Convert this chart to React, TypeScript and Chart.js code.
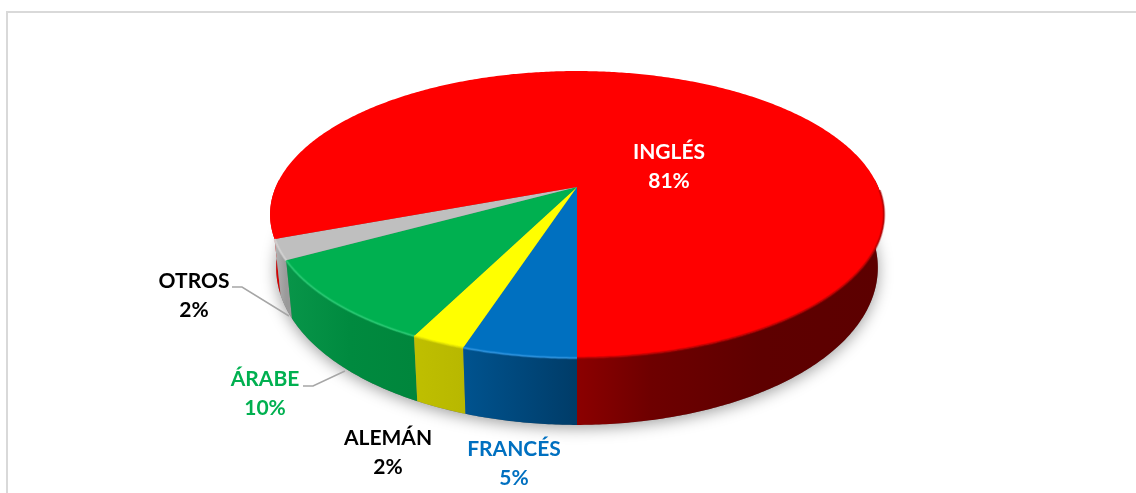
import React, { useEffect, useRef } from "react";
import { Chart, registerables } from "chart.js";

Chart.register(...registerables);

const categories = ["FRANCÉS", "ALEMÁN", "ÁRABE", "OTROS", "INGLÉS"];
const shares = [5, 2.4, 9.6, 2.3, 80.7];
const topColors = ["#0070C0", "#FFFF00", "#00B050", "#BFBFBF", "#FF0000"];
const labelColors = ["#0070C0", "#000000", "#00B050", "#000000", "#FFFFFF"];
const rimColors = ["#2f97e6", "#e6e600", "#2ccf77", "#d8d8d8", "#b00000"];
const wallStops: [number, string][][] = [
  [[0, "#00538f"], [1, "#003c68"]],
  [[0, "#bfbf00"], [1, "#b8b800"]],
  [[0, "#089549"], [0.5, "#008a3f"], [1, "#00863c"]],
  [[0, "#b4b4b4"], [1, "#9a9a9a"]],
  [[0, "#e80000"], [0.03, "#c00000"], [0.497, "#8c0000"], [0.62, "#6e0000"], [0.8, "#5e0000"], [1, "#5c0000"]],
];
// label block centres (x, first line y), in page pixels
const labelX = [514, 388, 265, 194, 669];
const labelY = [449, 438, 379, 281, 152];
const leaderLines: number[][][] = [
  [[232, 287], [242, 287], [289, 316]],
  [[303, 386], [313, 386], [345, 371]],
];

// Perspective projection of the library's circular pie, expressed in radii
const PROJ = { k: 0.1916, a: 1.611, b: 0.739, baseScale: 0.98, depth: 0.267, depthFront: 0.091 };

function project(arc: any, angle: number, bottom = false) {
  const u = Math.cos(angle);
  const v = Math.sin(angle);
  const R = arc.outerRadius;
  const w = 1 - PROJ.k * v;
  let x = (PROJ.a * R * u) / w;
  let y = (PROJ.b * R * v) / w;
  if (bottom) {
    x *= PROJ.baseScale;
    y += (PROJ.depth + PROJ.depthFront * v) * R;
  }
  return { x: arc.x + x, y: arc.y + y };
}

function sample(start: number, end: number) {
  const n = Math.max(2, Math.ceil((end - start) / 0.01));
  const out: number[] = [];
  for (let i = 0; i <= n; i++) out.push(start + ((end - start) * i) / n);
  return out;
}

const pie3d = {
  id: "pie3d",
  beforeDatasetDraw(chart: any) {
    const ctx = chart.ctx as CanvasRenderingContext2D;
    const arcs = chart.getDatasetMeta(0).data as any[];
    const first = arcs[0];

    // soft shadow under the whole disc
    ctx.save();
    ctx.shadowColor = "rgba(0,0,0,0.38)";
    ctx.shadowBlur = 15;
    ctx.shadowOffsetY = 3;
    ctx.fillStyle = "#777";
    ctx.beginPath();
    sample(0, Math.PI * 2).forEach((t, i) => {
      const p = project(first, t, true);
      i ? ctx.lineTo(p.x, p.y) : ctx.moveTo(p.x, p.y);
    });
    ctx.closePath();
    ctx.fill();
    ctx.restore();

    // side walls, far slices first
    for (let i = arcs.length - 1; i >= 0; i--) {
      const arc = arcs[i];
      const angles = sample(arc.startAngle, arc.endAngle);
      let seg: number[] = [];
      const flush = () => {
        if (seg.length > 1) {
          const xs = seg.map((t) => project(arc, t).x);
          let x0 = Math.min(...xs);
          let x1 = Math.max(...xs);
          if (i === arcs.length - 1) {
            x0 = arc.x - PROJ.a * arc.outerRadius * 1.02;
            x1 = arc.x + PROJ.a * arc.outerRadius * 1.02;
          }
          const g = ctx.createLinearGradient(x0, 0, x1, 0);
          wallStops[i].forEach(([o, c]) => g.addColorStop(o, c));
          ctx.fillStyle = g;
          ctx.beginPath();
          seg.forEach((t, j) => {
            const p = project(arc, t);
            j ? ctx.lineTo(p.x, p.y) : ctx.moveTo(p.x, p.y);
          });
          [...seg].reverse().forEach((t) => {
            const p = project(arc, t, true);
            ctx.lineTo(p.x, p.y);
          });
          ctx.closePath();
          ctx.fill();
        }
        seg = [];
      };
      angles.forEach((t) => {
        if (Math.sin(t) > -0.06) seg.push(t);
        else flush();
      });
      flush();
    }

    // top faces
    arcs.forEach((arc) => {
      ctx.fillStyle = arc.options.backgroundColor;
      ctx.beginPath();
      ctx.moveTo(arc.x, arc.y);
      sample(arc.startAngle, arc.endAngle).forEach((t) => {
        const p = project(arc, t);
        ctx.lineTo(p.x, p.y);
      });
      ctx.closePath();
      ctx.fill();
    });

    // bevel along the front rim
    ctx.lineCap = "butt";
    arcs.forEach((arc, i) => {
      const angles = sample(arc.startAngle, arc.endAngle).filter((t) => Math.sin(t) > 0.02 && (i !== arcs.length - 1 || Math.cos(t) > 0));
      [[3, 0.3], [1.5, 0.7]].forEach(([lw, alpha]) => {
        ctx.save();
        ctx.globalAlpha = alpha;
        ctx.strokeStyle = rimColors[i];
        ctx.lineWidth = lw;
        ctx.beginPath();
        angles.forEach((t, j) => {
          const p = project(arc, t);
          j ? ctx.lineTo(p.x, p.y) : ctx.moveTo(p.x, p.y);
        });
        ctx.stroke();
        ctx.restore();
      });
    });
    return false;
  },
  afterDraw(chart: any) {
    const ctx = chart.ctx as CanvasRenderingContext2D;
    // chart frame: left and top edges, running off the page on the other sides
    ctx.save();
    ctx.strokeStyle = "#D9D9D9";
    ctx.lineWidth = 2;
    ctx.strokeRect(7, 12, 1140, 500);

    // leader lines
    ctx.strokeStyle = "#A6A6A6";
    ctx.lineWidth = 1.5;
    leaderLines.forEach((line) => {
      ctx.beginPath();
      line.forEach(([x, y], i) => (i ? ctx.lineTo(x, y) : ctx.moveTo(x, y)));
      ctx.stroke();
    });

    // data labels
    ctx.font = 'bold 21px Lato, "Open Sans", sans-serif';
    ctx.textAlign = "center";
    ctx.textBaseline = "middle";
    categories.forEach((name, i) => {
      ctx.fillStyle = labelColors[i];
      ctx.fillText(name, labelX[i], labelY[i]);
      ctx.fillText(`${Math.round(shares[i])}%`, labelX[i], labelY[i] + 29.5);
    });
    ctx.restore();
  },
};

export default function App() {
  const ref = useRef<HTMLCanvasElement>(null);
  useEffect(() => {
    const chart = new Chart(ref.current!, {
      type: "pie",
      data: {
        labels: categories,
        datasets: [{ data: shares, backgroundColor: topColors, borderWidth: 0 }],
      },
      options: {
        responsive: false,
        animation: false,
        rotation: 180,
        layout: { padding: { left: 18, bottom: 119 } },
        plugins: { legend: { display: false }, tooltip: { enabled: false } },
      },
      plugins: [pie3d],
    });
    return () => chart.destroy();
  }, []);
  return (
    <canvas
      ref={ref}
      width={1136}
      height={493}
      style={{ position: "fixed", left: 0, top: 0, width: 1136, height: 493, background: "#fff" }}
    />
  );
}
